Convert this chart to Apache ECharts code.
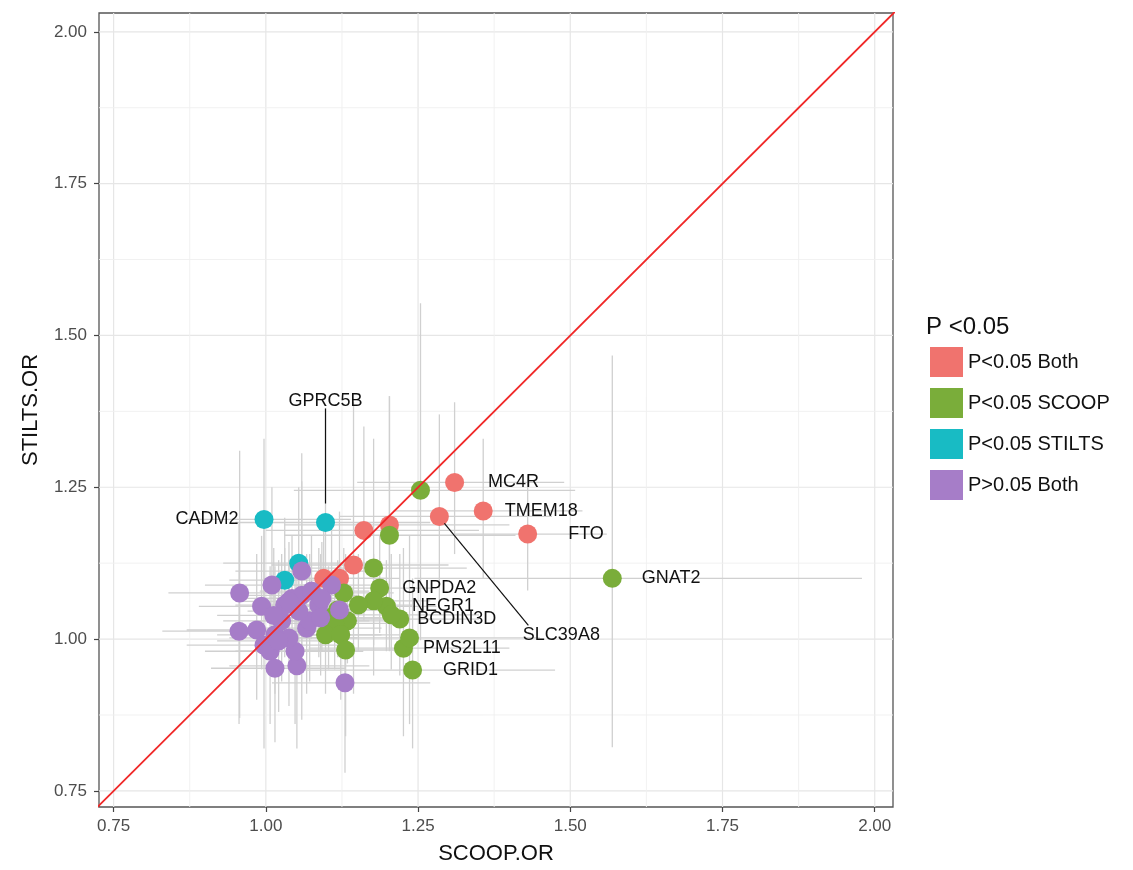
<!DOCTYPE html>
<html><head><meta charset="utf-8">
<script src="https://cdn.jsdelivr.net/npm/echarts@6/dist/echarts.min.js"></script>
<style>html,body{margin:0;padding:0;background:#fff}#c{width:1133px;height:870px}</style>
</head><body><div id="c"></div>
<script>
// Each row: [SCOOP.OR, STILTS.OR, SCOOP low, SCOOP high, STILTS low, STILTS high, gene label]
const bothPts = [
  [1.310, 1.258, 1.15, 1.49, 1.14, 1.39, 'MC4R'],
  [1.357, 1.211, 1.21, 1.52, 1.10, 1.33, 'TMEM18'],
  [1.430, 1.173, 1.31, 1.56, 1.08, 1.27, 'FTO'],
  [1.285, 1.202, 1.12, 1.47, 1.06, 1.37, 'SLC39A8'],
  [1.203, 1.188, 1.03, 1.40, 1.01, 1.40, ''],
  [1.161, 1.179, 1.00, 1.35, 1.03, 1.35, ''],
  [1.144, 1.122, 1.01, 1.30, 0.91, 1.39, ''],
  [1.121, 1.100, 1.03, 1.22, 1.00, 1.21, ''],
  [1.095, 1.100, 1.00, 1.20, 1.01, 1.20, '']
];
const scoopPts = [
  [1.569, 1.100, 1.244, 1.979, 0.822, 1.467, 'GNAT2'],
  [1.254, 1.245, 1.046, 1.508, 0.998, 1.553, ''],
  [1.203, 1.171, 1.03, 1.41, 0.98, 1.40, ''],
  [1.177, 1.117, 1.04, 1.33, 0.94, 1.33, ''],
  [1.187, 1.084, 1.10, 1.28, 1.01, 1.17, 'GNPDA2'],
  [1.198, 1.054, 1.12, 1.28, 0.98, 1.13, 'NEGR1'],
  [1.220, 1.033, 1.10, 1.35, 0.94, 1.14, 'BCDIN3D'],
  [1.226, 0.985, 1.07, 1.40, 0.84, 1.15, 'PMS2L11'],
  [1.241, 0.949, 1.05, 1.475, 0.82, 1.10, 'GRID1'],
  [1.236, 1.002, 1.05, 1.45, 0.86, 1.17, ''],
  [1.206, 1.040, 1.08, 1.35, 0.95, 1.14, ''],
  [1.177, 1.063, 1.09, 1.27, 0.99, 1.14, ''],
  [1.152, 1.056, 1.07, 1.24, 0.98, 1.14, ''],
  [1.128, 1.076, 1.05, 1.21, 1.01, 1.15, ''],
  [1.118, 1.048, 1.04, 1.20, 0.97, 1.13, ''],
  [1.103, 1.035, 1.02, 1.19, 0.95, 1.12, ''],
  [1.134, 1.030, 1.06, 1.21, 0.96, 1.10, ''],
  [1.113, 1.026, 1.03, 1.20, 0.95, 1.11, ''],
  [1.098, 1.007, 1.01, 1.19, 0.91, 1.11, ''],
  [1.123, 1.007, 1.03, 1.22, 0.90, 1.12, ''],
  [1.131, 0.982, 1.04, 1.23, 0.84, 1.14, '']
];
const stiltsPts = [
  [0.997, 1.197, 0.87, 1.14, 1.06, 1.33, 'CADM2'],
  [1.098, 1.192, 0.95, 1.27, 1.03, 1.38, 'GPRC5B'],
  [1.054, 1.125, 0.93, 1.19, 1.01, 1.25, ''],
  [1.031, 1.097, 0.94, 1.13, 1.00, 1.20, '']
];
const nonePts = [
  [1.059, 1.112, 0.95, 1.18, 0.98, 1.26, ''],
  [1.010, 1.089, 0.90, 1.13, 0.95, 1.25, ''],
  [0.957, 1.076, 0.84, 1.09, 0.87, 1.31, ''],
  [1.108, 1.089, 1.02, 1.20, 1.00, 1.18, ''],
  [0.993, 1.054, 0.89, 1.11, 0.95, 1.17, ''],
  [0.956, 1.013, 0.83, 1.10, 0.86, 1.19, ''],
  [0.985, 1.015, 0.87, 1.12, 0.90, 1.14, ''],
  [0.997, 0.990, 0.87, 1.14, 0.82, 1.20, ''],
  [1.007, 0.980, 0.90, 1.13, 0.86, 1.12, ''],
  [1.015, 0.952, 0.91, 1.13, 0.83, 1.09, ''],
  [1.051, 0.956, 0.94, 1.17, 0.82, 1.11, ''],
  [1.048, 0.980, 0.95, 1.16, 0.86, 1.12, ''],
  [1.067, 1.018, 0.96, 1.19, 0.91, 1.14, ''],
  [1.072, 1.030, 0.98, 1.17, 0.93, 1.14, ''],
  [1.026, 1.030, 0.93, 1.13, 0.93, 1.14, ''],
  [1.031, 1.056, 0.95, 1.12, 0.97, 1.15, ''],
  [1.043, 1.067, 0.96, 1.13, 0.97, 1.17, ''],
  [1.059, 1.072, 0.97, 1.15, 0.867, 1.306, ''],
  [1.075, 1.079, 0.99, 1.17, 1.00, 1.17, ''],
  [1.087, 1.056, 1.00, 1.18, 0.97, 1.15, ''],
  [1.092, 1.067, 1.00, 1.19, 0.98, 1.16, ''],
  [1.013, 1.039, 0.92, 1.12, 0.94, 1.15, ''],
  [1.054, 1.046, 0.97, 1.15, 0.96, 1.14, ''],
  [1.015, 1.007, 0.92, 1.12, 0.91, 1.12, ''],
  [1.038, 1.002, 0.94, 1.15, 0.89, 1.13, ''],
  [1.130, 0.928, 1.01, 1.27, 0.78, 1.10, ''],
  [1.121, 1.048, 1.04, 1.21, 0.97, 1.13, ''],
  [1.038, 1.062, 0.95, 1.14, 0.97, 1.16, ''],
  [1.090, 1.035, 1.00, 1.19, 0.94, 1.14, ''],
  [1.021, 0.997, 0.92, 1.13, 0.88, 1.13, '']
];
const groupNames = ['P<0.05 Both', 'P<0.05 SCOOP', 'P<0.05 STILTS', 'P>0.05 Both'];
const majorTicks = [0.75, 1.00, 1.25, 1.50, 1.75, 2.00];
const minorTicks = [0.875, 1.125, 1.375, 1.625, 1.875];
const diagLine = [[0.5, 0.5], [2.5, 2.5]];

// ---- styling / layout config ----
const X_MIN = 0.726, X_MAX = 2.030, Y_MIN = 0.7235, Y_MAX = 2.031;
const FONT = "'Liberation Sans', Arial, sans-serif";
const colors = ['#F0736E', '#7AAD3A', '#18BBC4', '#A67DC8'];
const labelCfg = {
  MC4R: {position: 'right', distance: 24},
  TMEM18: {position: 'right', distance: 12},
  FTO: {position: 'right', distance: 31},
  GNAT2: {position: 'right', distance: 20},
  GRID1: {position: 'right', distance: 21},
  PMS2L11: {position: 'right', distance: 10},
  BCDIN3D: {position: 'right', distance: 8},
  NEGR1: {position: 'right', distance: 16},
  GNPDA2: {position: 'right', distance: 13},
  CADM2: {position: 'left', distance: 16},
  GPRC5B: {position: 'top', distance: 103},
  SLC39A8: {position: 'inside', offset: [122, 119]}
};
const connectorCfg = {GPRC5B: [0, -19, 0, -114], SLC39A8: [5, 7, 89, 109]};

const groups = [bothPts, scoopPts, stiltsPts, nonePts];
const allPts = [].concat(bothPts, scoopPts, stiltsPts, nonePts);

function toItems(arr) {
  return arr.map(r => {
    const it = {value: [r[0], r[1]], name: r[6]};
    if (r[6] && labelCfg[r[6]]) {
      it.label = Object.assign({show: true, formatter: r[6], color: '#111', fontSize: 18, fontFamily: FONT}, labelCfg[r[6]]);
    }
    return it;
  });
}

const gridData = majorTicks.map(v => [v, 1]).concat(minorTicks.map(v => [v, 0]));
const connectorPts = allPts.filter(r => connectorCfg[r[6]]);

const scatterOrder = [2, 0, 1, 3];
const scatterSeries = scatterOrder.map(gi => ({
  name: groupNames[gi], type: 'scatter', symbol: 'circle', symbolSize: 19, z: 4,
  itemStyle: {color: colors[gi], opacity: 1},
  label: {show: false},
  data: toItems(groups[gi])
}));

const chart = echarts.init(document.getElementById('c'), null, {renderer: 'canvas'});
chart.setOption({
  animation: false,
  backgroundColor: '#fff',
  textStyle: {fontFamily: FONT},
  title: {text: 'P <0.05', left: 921, top: 310, textStyle: {fontSize: 24, fontWeight: 'normal', color: '#111', fontFamily: FONT}},
  legend: {
    data: groupNames, orient: 'vertical', left: 930, top: 347, padding: 0,
    itemWidth: 33, itemHeight: 30, itemGap: 11, icon: 'rect', selectedMode: false,
    textStyle: {fontSize: 20, color: '#111', fontFamily: FONT}
  },
  grid: {left: 99, right: 240, top: 13, bottom: 63, show: true, borderColor: '#555', borderWidth: 1.3, backgroundColor: 'transparent', containLabel: false},
  xAxis: {
    type: 'value', min: X_MIN, max: X_MAX,
    name: 'SCOOP.OR', nameLocation: 'middle', nameGap: 36,
    nameTextStyle: {fontSize: 22, color: '#111', fontFamily: FONT},
    axisLine: {show: false}, splitLine: {show: false},
    axisTick: {show: true, customValues: majorTicks, length: 5, lineStyle: {color: '#444', width: 1.2}},
    axisLabel: {customValues: majorTicks, formatter: v => v.toFixed(2), color: '#4d4d4d', fontSize: 17, margin: 11, fontFamily: FONT}
  },
  yAxis: {
    type: 'value', min: Y_MIN, max: Y_MAX,
    name: 'STILTS.OR', nameLocation: 'middle', nameGap: 57,
    nameTextStyle: {fontSize: 22, color: '#111', fontFamily: FONT},
    axisLine: {show: false}, splitLine: {show: false},
    axisTick: {show: true, customValues: majorTicks, length: 5, lineStyle: {color: '#444', width: 1.2}},
    axisLabel: {customValues: majorTicks, formatter: v => v.toFixed(2), color: '#4d4d4d', fontSize: 17, margin: 12, fontFamily: FONT}
  },
  series: [
    {
      name: 'grid', type: 'custom', silent: true, z: 1, data: gridData,
      renderItem: (params, api) => {
        const v = api.value(0), major = api.value(1);
        const p1 = api.coord([v, Y_MIN]), p2 = api.coord([v, Y_MAX]);
        const q1 = api.coord([X_MIN, v]), q2 = api.coord([X_MAX, v]);
        const st = {stroke: major ? '#e6e6e6' : '#efefef', lineWidth: major ? 1.2 : 0.9};
        return {type: 'group', children: [
          {type: 'line', shape: {x1: p1[0], y1: p1[1], x2: p2[0], y2: p2[1]}, style: st},
          {type: 'line', shape: {x1: q1[0], y1: q1[1], x2: q2[0], y2: q2[1]}, style: st}
        ]};
      }
    },
    {
      name: 'ci', type: 'custom', silent: true, z: 2,
      data: allPts.map(r => r.slice(0, 6)),
      renderItem: (params, api) => {
        const x = api.value(0), y = api.value(1);
        const a = api.coord([api.value(2), y]), b = api.coord([api.value(3), y]);
        const c = api.coord([x, api.value(4)]), d = api.coord([x, api.value(5)]);
        const st = {stroke: '#d0d0d0', lineWidth: 1.3};
        return {type: 'group', children: [
          {type: 'line', shape: {x1: a[0], y1: a[1], x2: b[0], y2: b[1]}, style: st},
          {type: 'line', shape: {x1: c[0], y1: c[1], x2: d[0], y2: d[1]}, style: st}
        ]};
      }
    },
    ...scatterSeries,
    {
      name: 'diag', type: 'line', data: diagLine, symbol: 'none', silent: true, z: 5, clip: true,
      lineStyle: {color: '#f02828', width: 1.8}
    },
    {
      name: 'connectors', type: 'custom', silent: true, z: 6,
      data: connectorPts.map(r => ({value: [r[0], r[1]], name: r[6]})),
      renderItem: (params, api) => {
        const p = api.coord([api.value(0), api.value(1)]);
        const o = connectorCfg[connectorPts[params.dataIndex][6]];
        return {type: 'line', shape: {x1: p[0] + o[0], y1: p[1] + o[1], x2: p[0] + o[2], y2: p[1] + o[3]}, style: {stroke: '#111', lineWidth: 1.2}};
      }
    }
  ]
});
</script></body></html>
